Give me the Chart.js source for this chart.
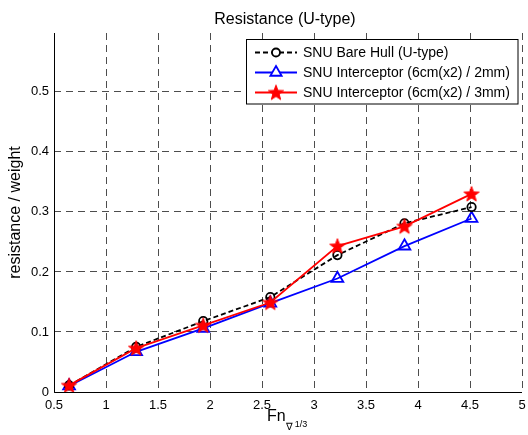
<!DOCTYPE html>
<html>
<head>
<meta charset="utf-8">
<script src="https://cdn.jsdelivr.net/npm/chart.js@4/dist/chart.umd.min.js"></script>
<style>
html,body{margin:0;padding:0;background:#fff;}
#wrap{width:528px;height:435px;position:relative;}
</style>
</head>
<body>
<div id="wrap"><canvas id="c" width="528" height="435"></canvas></div>
<script>
// ---- data ----
const froude = [0.645, 1.29, 1.935, 2.58, 3.225, 3.87, 4.515];
const bareHull = [0.011, 0.075, 0.118, 0.158, 0.228, 0.281, 0.308];
const interceptor2mm = [0.010, 0.067, 0.106, 0.148, 0.189, 0.243, 0.289];
const interceptor3mm = [0.011, 0.073, 0.111, 0.149, 0.243, 0.276, 0.330];
const seriesNames = ['SNU Bare Hull (U-type)', 'SNU Interceptor (6cm(x2) / 2mm)', 'SNU Interceptor (6cm(x2) / 3mm)'];
const yTickValues = [0, 0.1, 0.2, 0.3, 0.4, 0.5];
const xTickValues = [0.5, 1, 1.5, 2, 2.5, 3, 3.5, 4, 4.5, 5];
const titleText = 'Resistance (U-type)';
const yLabelText = 'resistance / weight';

const FONT = '"Liberation Sans", Arial, Helvetica, sans-serif';

function starPath(ctx, cx, cy, ro, ri) {
  ctx.beginPath();
  for (let i = 0; i < 10; i++) {
    const r = i % 2 === 0 ? ro : ri;
    const a = -Math.PI / 2 + i * Math.PI / 5;
    const x = cx + r * Math.cos(a), y = cy + r * Math.sin(a);
    if (i === 0) ctx.moveTo(x, y); else ctx.lineTo(x, y);
  }
  ctx.closePath();
}
const starCanvas = document.createElement('canvas');
starCanvas.width = 18; starCanvas.height = 18;
(function(){
  const g = starCanvas.getContext('2d');
  starPath(g, 9, 9.6, 8, 3.3);
  g.fillStyle = '#ff0000'; g.fill();
  g.strokeStyle = '#ff0000'; g.lineWidth = 1; g.stroke();
})();

function toPoints(ys) { return froude.map((x, i) => ({x: x, y: ys[i]})); }

const axesLines = {
  id: 'axesLines',
  beforeDatasetsDraw(chart) {
    const ctx = chart.ctx, a = chart.chartArea;
    ctx.save();
    ctx.strokeStyle = '#000';
    ctx.lineWidth = 1;
    ctx.setLineDash([]);
    ctx.beginPath();
    ctx.moveTo(Math.round(a.left) + 0.5, a.top);
    ctx.lineTo(Math.round(a.left) + 0.5, Math.round(a.bottom) + 0.5);
    ctx.lineTo(a.right, Math.round(a.bottom) + 0.5);
    ctx.stroke();
    ctx.restore();
  }
};

const overlay = {
  id: 'overlay',
  afterDraw(chart) {
    const ctx = chart.ctx;
    const area = chart.chartArea;
    ctx.save();
    // title
    ctx.fillStyle = '#000';
    ctx.font = '16px ' + FONT;
    ctx.textAlign = 'center';
    ctx.textBaseline = 'alphabetic';
    ctx.fillText(titleText, 285, 24);
    // x label with subscript
    ctx.font = '16px ' + FONT;
    ctx.textAlign = 'left';
    const fx = 267;
    ctx.fillText('Fn', fx, 421);
    const fw = ctx.measureText('Fn').width;
    ctx.font = '10px ' + FONT;
    ctx.fillText('\u2207', fx + fw, 430);
    const nw = ctx.measureText('\u2207').width;
    ctx.font = '9px ' + FONT;
    ctx.fillText('1/3', fx + fw + nw + 2, 427);
    // y label
    ctx.save();
    ctx.translate(20, (area.top + area.bottom) / 2);
    ctx.rotate(-Math.PI / 2);
    ctx.font = '16px ' + FONT;
    ctx.textAlign = 'center';
    ctx.fillText(yLabelText, 0, 0);
    ctx.restore();
    // legend
    const bx = 246.5, by = 39.5, bw = 271.5, bh = 64.5;
    ctx.fillStyle = '#fff';
    ctx.fillRect(bx, by, bw, bh);
    ctx.strokeStyle = '#000';
    ctx.lineWidth = 1;
    ctx.setLineDash([]);
    ctx.strokeRect(bx, by, bw, bh);
    const rows = [52.5, 72.5, 92.5];
    const styles = [
      {color: '#000', dash: [5, 3]},
      {color: '#0000ff', dash: []},
      {color: '#ff0000', dash: []}
    ];
    for (let i = 0; i < 3; i++) {
      const y = rows[i];
      ctx.strokeStyle = styles[i].color;
      ctx.lineWidth = 1.8;
      ctx.setLineDash(styles[i].dash);
      ctx.beginPath(); ctx.moveTo(255, y); ctx.lineTo(297, y); ctx.stroke();
      ctx.setLineDash([]);
      if (i === 0) {
        ctx.beginPath(); ctx.arc(276, y, 4, 0, Math.PI * 2);
        ctx.fillStyle = '#fff'; ctx.fill();
        ctx.stroke();
      } else if (i === 1) {
        ctx.beginPath();
        const r = 6.5;
        ctx.moveTo(276, y - r);
        ctx.lineTo(276 + r * Math.sin(Math.PI / 3 * 2), y - r * Math.cos(Math.PI / 3 * 2));
        ctx.lineTo(276 - r * Math.sin(Math.PI / 3 * 2), y - r * Math.cos(Math.PI / 3 * 2));
        ctx.closePath();
        ctx.fillStyle = '#fff'; ctx.fill();
        ctx.strokeStyle = '#0000ff'; ctx.stroke();
      } else {
        ctx.drawImage(starCanvas, 276 - 9, y - 9);
      }
      ctx.fillStyle = '#000';
      ctx.font = '14px ' + FONT;
      ctx.textAlign = 'left';
      ctx.textBaseline = 'middle';
      ctx.fillText(seriesNames[i], 303, y + 0.5);
    }
    ctx.restore();
  }
};

const gridDash = [7, 5];
new Chart(document.getElementById('c'), {
  type: 'line',
  data: {
    datasets: [
      {label: seriesNames[0], data: toPoints(bareHull), borderColor: '#000', borderWidth: 1.8, borderDash: [5, 3],
       pointStyle: 'circle', pointRadius: 4.2, pointBorderWidth: 1.8, pointBorderColor: '#000', pointBackgroundColor: 'rgba(0,0,0,0)', order: 1, tension: 0},
      {label: seriesNames[1], data: toPoints(interceptor2mm), borderColor: '#0000ff', borderWidth: 1.8,
       pointStyle: 'triangle', pointRadius: 6.8, pointBorderWidth: 1.8, pointBorderColor: '#0000ff', pointBackgroundColor: 'rgba(0,0,0,0)', order: 2, tension: 0},
      {label: seriesNames[2], data: toPoints(interceptor3mm), borderColor: '#ff0000', borderWidth: 1.8,
       pointStyle: starCanvas, pointRadius: 8, order: 0, tension: 0}
    ]
  },
  options: {
    responsive: false,
    animation: false,
    events: [],
    layout: {autoPadding: false, padding: {top: 33, right: 6, left: 0, bottom: 0}},
    plugins: {legend: {display: false}, title: {display: false}, tooltip: {enabled: false}},
    scales: {
      x: {
        type: 'linear', min: 0.5, max: 5,
        afterBuildTicks(s) { s.ticks = xTickValues.map(v => ({value: v})); },
        afterFit(s) { s.height = 43; s.paddingLeft = 0; s.paddingRight = 0; },
        grid: {color: '#4d4d4d', lineWidth: 1, drawTicks: false, tickLength: 0},
        border: {display: false, dash: gridDash},
        ticks: {color: '#000', font: {family: FONT, size: 13}, padding: 6, maxRotation: 0, autoSkip: false,
                callback: v => String(v)}
      },
      y: {
        type: 'linear', min: 0, max: 0.598,
        afterBuildTicks(s) { s.ticks = yTickValues.map(v => ({value: v})); },
        afterFit(s) { s.width = 54; s.paddingTop = 0; s.paddingBottom = 0; },
        grid: {color: '#4d4d4d', lineWidth: 1, drawTicks: false, tickLength: 0},
        border: {display: false, dash: gridDash},
        ticks: {color: '#000', font: {family: FONT, size: 13}, padding: 5, autoSkip: false,
                callback: v => String(Math.round(v * 10) / 10)}
      }
    }
  },
  plugins: [axesLines, overlay]
});
</script>
</body>
</html>
